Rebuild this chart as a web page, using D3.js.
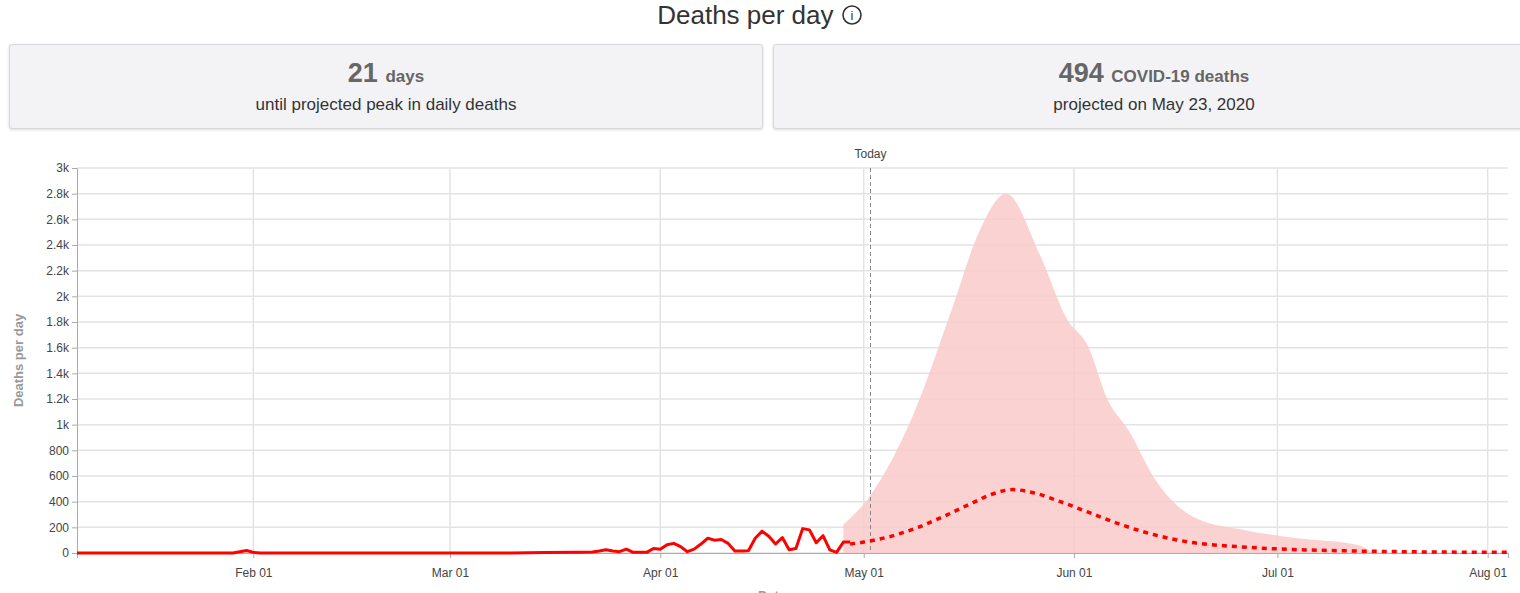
<!DOCTYPE html>
<html>
<head>
<meta charset="utf-8">
<script src="https://cdn.jsdelivr.net/npm/d3@7"></script>
<style>
  body { margin: 0; font-family: "Liberation Sans", Arial, sans-serif; background: #fff; overflow: hidden; }
  .title { position: absolute; left: 0; width: 1520px; top: 0px; text-align: center; font-size: 26px; color: #333; }
  .card { position: absolute; top: 44px; height: 83px; background: #f3f3f6; border: 1px solid #d8d8dc; border-radius: 3px;
          box-shadow: 0 1px 3px rgba(0,0,0,0.15); text-align: center; color: #333; }
  .card .big { font-size: 27px; font-weight: bold; color: #666; margin-top: 12px; line-height: 32px; }
  .card .big span { font-size: 17px; }
  .card .sub { font-size: 17px; margin-top: 2px; }
  svg { position: absolute; left: 0; top: 0; }
</style>
</head>
<body>
<div class="title">Deaths per day <svg style="position:relative;display:inline-block;vertical-align:-2px" width="22" height="22"><circle cx="11" cy="11" r="9" fill="none" stroke="#333" stroke-width="1.6"/><text x="11" y="16" text-anchor="middle" font-size="13" fill="#333">i</text></svg></div>
<div class="card" style="left:9px;width:752px"><div class="big">21 <span>days</span></div><div class="sub">until projected peak in daily deaths</div></div>
<div class="card" style="left:773px;width:760px"><div class="big">494 <span>COVID-19 deaths</span></div><div class="sub">projected on May 23, 2020</div></div>
<svg id="chart" width="1520" height="593"></svg>
<script>
// observed daily deaths
const obsDates = ["2020-01-06","2020-01-29","2020-01-30","2020-01-31","2020-02-01","2020-02-02","2020-03-10","2020-03-15","2020-03-20","2020-03-22",
  "2020-03-23","2020-03-24","2020-03-25","2020-03-26","2020-03-27","2020-03-28","2020-03-29","2020-03-30","2020-03-31",
  "2020-04-01","2020-04-02","2020-04-03","2020-04-04","2020-04-05","2020-04-06","2020-04-07","2020-04-08","2020-04-09","2020-04-10",
  "2020-04-11","2020-04-12","2020-04-13","2020-04-14","2020-04-15","2020-04-16","2020-04-17","2020-04-18","2020-04-19","2020-04-20",
  "2020-04-21","2020-04-22","2020-04-23","2020-04-24","2020-04-25","2020-04-26","2020-04-27","2020-04-28","2020-04-29"];
const obsValues = [0,0,10,20,5,0,0,3,5,8,
  15,25,15,10,30,5,5,5,35,
  30,65,75,50,10,30,70,115,100,105,
  75,15,15,18,115,170,130,70,120,25,
  35,190,180,80,135,25,5,85,85];
// projected mean
const projDates = ["2020-04-29","2020-05-01","2020-05-05","2020-05-09","2020-05-13","2020-05-17","2020-05-20","2020-05-23","2020-05-26","2020-05-30",
  "2020-06-03","2020-06-08","2020-06-13","2020-06-18","2020-06-25","2020-07-01","2020-07-10","2020-07-20","2020-08-04"];
const projValues = [70,85,130,200,290,390,460,494,470,400,320,220,140,85,50,32,18,10,5];
// uncertainty band upper bound
const bandDates = ["2020-04-28","2020-05-02","2020-05-08","2020-05-14","2020-05-18","2020-05-22","2020-05-27","2020-05-31","2020-06-03","2020-06-06",
  "2020-06-09","2020-06-13","2020-06-19","2020-06-26","2020-07-03","2020-07-13","2020-07-15"];
const bandUpper = [220,450,1040,1900,2500,2800,2320,1820,1620,1190,960,570,270,180,120,60,0];
const yTicks = [0,200,400,600,800,1000,1200,1400,1600,1800,2000,2200,2400,2600,2800,3000];
const monthTicks = ["2020-02-01","2020-03-01","2020-04-01","2020-05-01","2020-06-01","2020-07-01","2020-08-01"];
const today = "2020-05-02";

const parse = d3.timeParse("%Y-%m-%d");
const svg = d3.select("#chart");
const m = { left: 77, right: 1508, top: 168, bottom: 553 };
const x = d3.scaleTime().domain([parse("2020-01-06"), parse("2020-08-04")]).range([m.left, m.right]);
const y = d3.scaleLinear().domain([0, 3000]).range([m.bottom, m.top]);
const fmtY = d => d >= 1000 ? (d / 1000) + "k" : d;

// grid
svg.append("g").selectAll("line").data(yTicks).join("line")
  .attr("x1", m.left).attr("x2", m.right).attr("y1", d => y(d)).attr("y2", d => y(d))
  .attr("stroke", "#e3e3e3").attr("stroke-width", 1.5);
svg.append("g").selectAll("line").data(monthTicks).join("line")
  .attr("x1", d => x(parse(d))).attr("x2", d => x(parse(d))).attr("y1", m.top).attr("y2", m.bottom)
  .attr("stroke", "#e3e3e3").attr("stroke-width", 1.5);

// band
const band = bandDates.map((d, i) => ({ d: parse(d), v: bandUpper[i] }));
svg.append("path").datum(band)
  .attr("d", d3.area().x(d => x(d.d)).y0(y(0)).y1(d => y(d.v)).curve(d3.curveMonotoneX))
  .attr("fill", "#f9caca").attr("opacity", 0.85);

// axes
const yAxis = svg.append("g").attr("transform", `translate(${m.left},0)`)
  .call(d3.axisLeft(y).tickValues(yTicks).tickFormat(fmtY).tickSize(5));
const xAxis = svg.append("g").attr("transform", `translate(0,${m.bottom})`)
  .call(d3.axisBottom(x).tickValues(monthTicks.map(parse)).tickFormat(d3.timeFormat("%b %d")).tickSize(5));
[yAxis, xAxis].forEach(a => {
  a.selectAll("path,line").attr("stroke", "#aaa");
  a.selectAll("text").attr("fill", "#444").attr("font-size", 12).attr("font-family", "Liberation Sans, Arial, sans-serif");
});
xAxis.selectAll("text").attr("dy", "1.3em");

svg.append("text").attr("transform", `translate(23,${(m.top + m.bottom) / 2}) rotate(-90)`)
  .attr("text-anchor", "middle").attr("font-size", 13).attr("font-weight", "bold").attr("fill", "#999").text("Deaths per day");
svg.append("text").attr("x", 772).attr("y", 600).attr("text-anchor", "middle")
  .attr("font-size", 13).attr("font-weight", "bold").attr("fill", "#999").text("Date");

// today
const tx = x(parse(today));
svg.append("line").attr("x1", tx).attr("x2", tx).attr("y1", m.top).attr("y2", m.bottom)
  .attr("stroke", "#888").attr("stroke-dasharray", "4,3");
svg.append("text").attr("x", tx).attr("y", 158).attr("text-anchor", "middle").attr("font-size", 12).attr("fill", "#444").text("Today");

// observed
const obs = obsDates.map((d, i) => ({ d: parse(d), v: obsValues[i] }));
svg.append("path").datum(obs).attr("fill", "none").attr("stroke", "#f00").attr("stroke-width", 3)
  .attr("stroke-linejoin", "round").attr("d", d3.line().x(d => x(d.d)).y(d => y(d.v)));

// projected
const proj = projDates.map((d, i) => ({ d: parse(d), v: projValues[i] }));
svg.append("path").datum(proj).attr("fill", "none").attr("stroke", "#f00").attr("stroke-width", 3.5)
  .attr("stroke-dasharray", "5,5").attr("d", d3.line().x(d => x(d.d)).y(d => y(d.v)).curve(d3.curveMonotoneX));
</script>
</body>
</html>
